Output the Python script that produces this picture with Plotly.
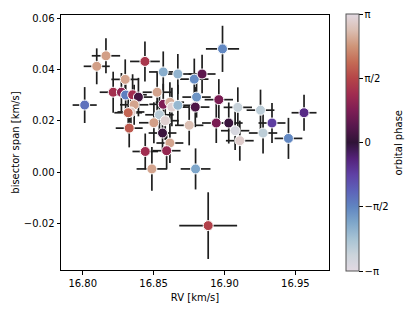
import numpy as np
import plotly.graph_objects as go

rv = [16.8164, 16.8099, 16.8439, 16.8568, 16.8671, 16.8787, 16.8842, 16.8300,
      16.8215, 16.8273, 16.8303, 16.8352, 16.8393, 16.8525, 16.8803, 16.8014,
      16.8363, 16.8568, 16.8615, 16.8629, 16.8671, 16.8794, 16.8340, 16.8321,
      16.8541, 16.8582, 16.8502, 16.8328, 16.8751, 16.8563, 16.8615, 16.8441,
      16.8592, 16.8488, 16.8796, 16.8986, 16.8960, 16.9094, 16.9254, 16.9561,
      16.8942, 16.9030, 16.9335, 16.9075, 16.9108, 16.9272, 16.9451, 16.8885]
bis = [0.0453, 0.0412, 0.0431, 0.0390, 0.0382, 0.0362, 0.0382, 0.0361,
       0.0311, 0.0311, 0.0300, 0.0301, 0.0292, 0.0311, 0.0292, 0.0261,
       0.0262, 0.0264, 0.0272, 0.0253, 0.0260, 0.0253, 0.0234, 0.0231,
       0.0223, 0.0200, 0.0192, 0.0171, 0.0182, 0.0152, 0.0113, 0.0080,
       0.0083, 0.0012, 0.0012, 0.0480, 0.0282, 0.0252, 0.0241, 0.0231,
       0.0191, 0.0191, 0.0191, 0.0161, 0.0122, 0.0152, 0.0131, -0.0209]
rv_err = [0.0100, 0.0092, 0.0105, 0.0100, 0.0098, 0.0100, 0.0095, 0.0098,
          0.0095, 0.0100, 0.0095, 0.0100, 0.0098, 0.0102, 0.0100, 0.0085,
          0.0100, 0.0098, 0.0100, 0.0095, 0.0100, 0.0100, 0.0095, 0.0098,
          0.0100, 0.0095, 0.0105, 0.0095, 0.0100, 0.0098, 0.0095, 0.0090,
          0.0098, 0.0108, 0.0105, 0.0117, 0.0100, 0.0100, 0.0098, 0.0088,
          0.0100, 0.0098, 0.0095, 0.0100, 0.0098, 0.0100, 0.0098, 0.0204]
bis_err = [0.0068, 0.0070, 0.0078, 0.0080, 0.0078, 0.0080, 0.0075, 0.0078,
           0.0080, 0.0075, 0.0078, 0.0080, 0.0075, 0.0080, 0.0080, 0.0070,
           0.0078, 0.0080, 0.0078, 0.0075, 0.0080, 0.0078, 0.0075, 0.0080,
           0.0078, 0.0075, 0.0080, 0.0075, 0.0078, 0.0075, 0.0078, 0.0070,
           0.0070, 0.0085, 0.0080, 0.0090, 0.0080, 0.0078, 0.0080, 0.0070,
           0.0078, 0.0080, 0.0078, 0.0075, 0.0078, 0.0080, 0.0080, 0.0130]
phase = [2.45, 2.45, 1.35, -2.05, -2.15, -1.65, 0.45, 2.50,
         1.25, 1.00, -1.50, 1.20, 0.20, 2.50, -1.75, -1.35,
         2.50, 0.80, 2.60, 3.00, -2.20, 0.30, 2.90, 1.90,
         -2.55, 3.00, 2.45, 1.80, 2.75, 0.10, 2.50, 1.20,
         1.05, 2.50, -1.95, -1.60, 0.75, -2.70, -2.60, -0.50,
         0.75, 0.10, -0.75, -2.95, 2.95, -2.60, -1.60, 1.50]

cb_tickvals = [-np.pi, -np.pi / 2, 0, np.pi / 2, np.pi]
cb_ticktext = ["−π", "−π/2", "0", "π/2", "π"]
x_ticks = [16.80, 16.85, 16.90, 16.95]
y_ticks = [-0.02, 0.00, 0.02, 0.04, 0.06]

twilight = [
    [0.0, "rgb(226,217,226)"], [0.0625, "rgb(203,212,219)"],
    [0.125, "rgb(167,195,212)"], [0.1875, "rgb(127,167,202)"],
    [0.25, "rgb(96,133,193)"], [0.3125, "rgb(93,98,185)"],
    [0.375, "rgb(95,65,165)"], [0.4375, "rgb(84,34,122)"],
    [0.5, "rgb(48,20,55)"], [0.5625, "rgb(87,23,77)"],
    [0.625, "rgb(126,29,84)"], [0.6875, "rgb(160,44,80)"],
    [0.75, "rgb(181,69,72)"], [0.8125, "rgb(196,107,85)"],
    [0.875, "rgb(207,149,121)"], [0.9375, "rgb(219,191,179)"],
    [1.0, "rgb(226,217,226)"],
]

fig = go.Figure()
fig.add_trace(go.Scatter(
    x=rv, y=bis, mode="markers",
    error_x=dict(type="data", array=rv_err, color="#1e1e1e", thickness=1.7, width=0),
    error_y=dict(type="data", array=bis_err, color="#1e1e1e", thickness=1.7, width=0),
    marker=dict(
        size=10, color=phase, colorscale=twilight, cmin=-np.pi, cmax=np.pi,
        line=dict(color="white", width=1),
        colorbar=dict(
            x=1.063, xanchor="left", xref="paper", xpad=0, ypad=0,
            y=0.5, yanchor="middle",
            thickness=13, len=257, lenmode="pixels",
            outlinecolor="#555", outlinewidth=1,
            tickvals=cb_tickvals, ticktext=cb_ticktext,
            ticks="outside", ticklen=3.5, tickcolor="black",
            tickfont=dict(size=10, color="black"),
        ),
    ),
    showlegend=False,
))

fig.add_annotation(
    text="orbital phase", x=1.2575, y=0.5, xref="paper", yref="paper",
    textangle=-90, showarrow=False, xanchor="center", yanchor="middle",
    font=dict(size=10, color="black"),
)

axis_common = dict(
    showline=True, mirror=True, linecolor="black", linewidth=1,
    ticks="outside", ticklen=3.5, tickcolor="black",
    showgrid=False, zeroline=False, automargin=False,
    tickfont=dict(size=10, color="black"),
)
fig.update_xaxes(range=[16.7847, 16.9737], tickvals=x_ticks,
                 ticktext=[f"{v:.2f}" for v in x_ticks],
                 title=dict(text="RV [km/s]", font=dict(size=10, color="black"), standoff=6),
                 **axis_common)
fig.update_yaxes(range=[-0.0382, 0.0612], tickvals=y_ticks,
                 ticktext=["−0.02", "0.00", "0.02", "0.04", "0.06"],
                 title=dict(text="bisector span [km/s]", font=dict(size=10, color="black"), standoff=2),
                 **axis_common)
fig.update_layout(
    width=415, height=311,
    margin=dict(l=61, r=86, t=15, b=41, autoexpand=False),
    paper_bgcolor="white", plot_bgcolor="white",
    font=dict(family="DejaVu Sans", size=10, color="black"),
)
fig.write_html("out.html", config={"displayModeBar": False},
               post_script="document.body.style.margin='0';")
